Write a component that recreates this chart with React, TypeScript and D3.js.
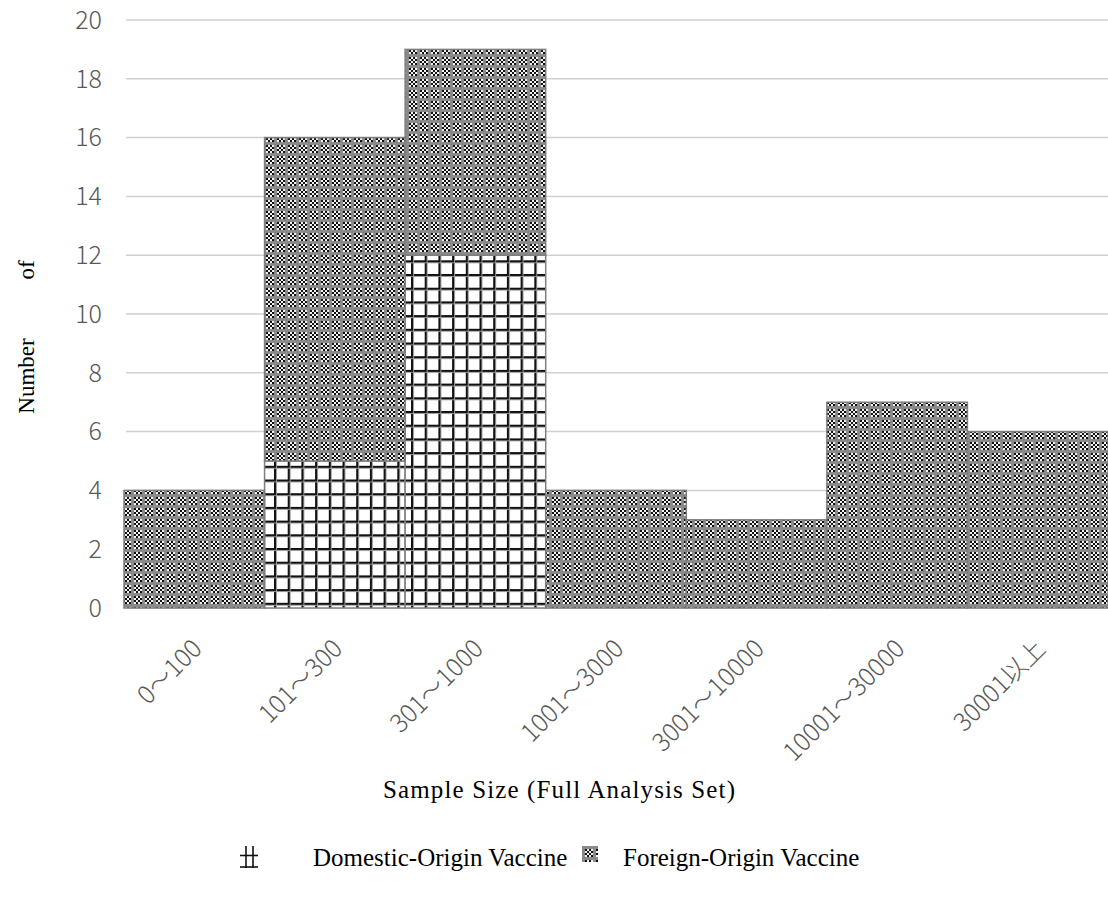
import React from "react";
import * as d3 from "d3";

const categories = ["0～100", "101～300", "301～1000", "1001～3000", "3001～10000", "10001～30000", "30001以上"];
const domesticValues = [0, 5, 12, 0, 0, 0, 0];
const foreignValues = [4, 11, 7, 4, 3, 7, 6];
const yTicks = [0, 2, 4, 6, 8, 10, 12, 14, 16, 18, 20];
const seriesNames = ["Domestic-Origin Vaccine", "Foreign-Origin Vaccine"];

const W = 1108;
const H = 903;
const margin = { left: 124, right: 0, top: 20, bottom: 295 };

export default function App() {
  const x = d3.scaleBand<string>().domain(categories).range([margin.left, W - margin.right]).padding(0);
  const y = d3.scaleLinear().domain([0, 20]).range([H - margin.bottom, margin.top]);

  const stacked = d3.stack<any>().keys(["domestic", "foreign"])(
    categories.map((c, i) => ({ cat: c, domestic: domesticValues[i], foreign: foreignValues[i] }))
  );

  const tickFont = "'Noto Sans CJK JP', 'Noto Sans', sans-serif";
  const serif = "'Liberation Serif', 'DejaVu Serif', serif";

  return (
    <svg width={W} height={H} style={{ position: "absolute", left: 0, top: 0, background: "#fff" }}>
      <defs>
        <pattern id="gridPat" width={13.7} height={13.7} patternUnits="userSpaceOnUse">
          <rect width={13.7} height={13.7} fill="#fff" />
          <rect x={0} y={0} width={2} height={13.7} fill="#111" />
          <rect x={0} y={0} width={13.7} height={2} fill="#111" />
          <rect x={2} y={0} width={1} height={13.7} fill="#999" />
          <rect x={0} y={2} width={13.7} height={1} fill="#999" />
        </pattern>
        <pattern id="checkPat" width={11} height={11} patternUnits="userSpaceOnUse">
          <rect width={11} height={11} fill="#8a8a8a" />
          {[0, 1, 2, 3].map((r) =>
            [0, 1, 2, 3].map((c) => (
              <rect
                key={`${r}-${c}`}
                x={2 + c * 2}
                y={2 + r * 2}
                width={2}
                height={2}
                fill={(r + c) % 2 === 0 ? "#111" : "#f2f2f2"}
              />
            ))
          )}
        </pattern>
      </defs>

      {/* horizontal gridlines */}
      {yTicks.map((t) => (
        <line key={t} x1={126} x2={W} y1={y(t)} y2={y(t)} stroke="#d0d0d0" strokeWidth={1.5} />
      ))}

      {/* y tick labels */}
      {yTicks.map((t) => (
        <text
          key={`l${t}`}
          x={102}
          y={y(t)}
          dy="0.35em"
          textAnchor="end"
          fontFamily={tickFont}
          fontSize={25}
          fontWeight={300}
          fill="#595959"
        >
          {t}
        </text>
      ))}

      {/* stacked bars */}
      {stacked.map((layer, li) =>
        layer.map((d, i) => {
          const h = y(d[0]) - y(d[1]);
          if (h <= 0) return null;
          return (
            <rect
              key={`${li}-${i}`}
              x={x(categories[i])!}
              y={y(d[1])}
              width={x.bandwidth()}
              height={h}
              fill={li === 0 ? "url(#gridPat)" : "url(#checkPat)"}
              stroke="#7f7f7f"
              strokeWidth={1.5}
            />
          );
        })
      )}

      {/* x category labels */}
      {categories.map((c) => {
        const cx = x(c)! + x.bandwidth() / 2 + 3;
        return (
          <text
            key={c}
            transform={`translate(${cx},${644}) rotate(-45)`}
            textAnchor="end"
            dy="0.35em"
            fontFamily={tickFont}
            fontSize={25}
            fontWeight={300}
            fill="#595959"
          >
            {c}
          </text>
        );
      })}

      {/* axis titles */}
      <text x={559} y={798} textAnchor="middle" fontFamily={serif} fontSize={25} textLength={352} fill="#000">
        Sample Size (Full Analysis Set)
      </text>
      <text transform="translate(34,376) rotate(-90)" textAnchor="middle" fontFamily={serif} fontSize={23} fill="#000">
        Number
      </text>
      <text transform="translate(34,270) rotate(-90)" textAnchor="middle" fontFamily={serif} fontSize={23} fill="#000">
        of
      </text>

      {/* legend */}
      <g>
        <g stroke="#111" strokeWidth={1.6}>
          <line x1={246} x2={246} y1={846} y2={868} />
          <line x1={253} x2={253} y1={846} y2={868} />
          <line x1={240} x2={258} y1={855.5} y2={855.5} />
          <line x1={240} x2={258} y1={867} y2={867} />
        </g>
        <text x={313} y={866} fontFamily={serif} fontSize={25} fill="#000">
          {seriesNames[0]}
        </text>
        <rect x={582} y={846} width={16} height={16} fill="url(#checkPat)" />
        <text x={623} y={866} fontFamily={serif} fontSize={25} fill="#000">
          {seriesNames[1]}
        </text>
      </g>
    </svg>
  );
}
